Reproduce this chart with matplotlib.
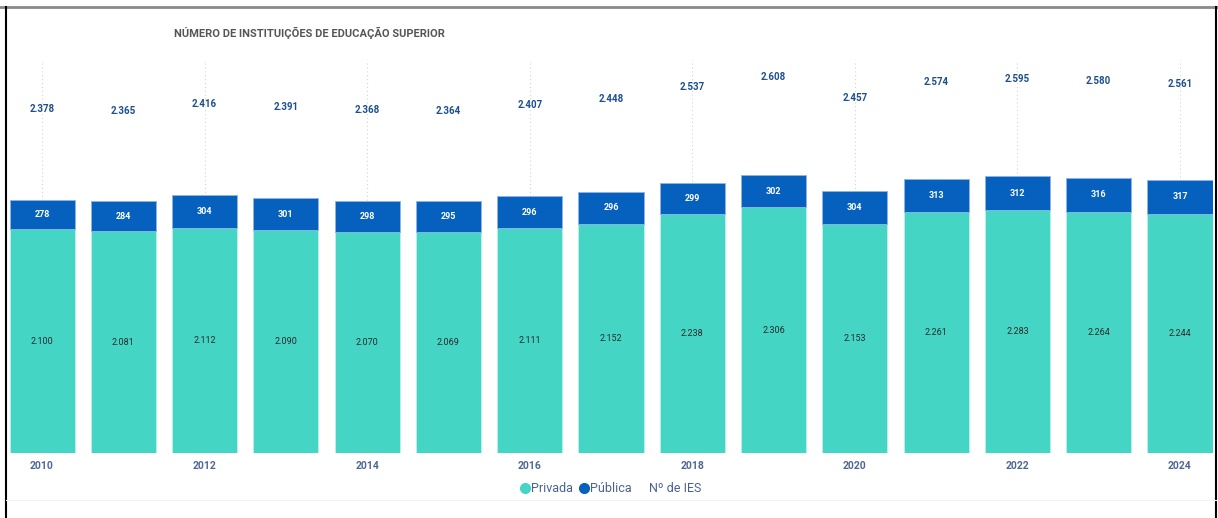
import numpy as np
import matplotlib.pyplot as plt
from matplotlib.lines import Line2D
from matplotlib.ticker import FixedLocator

# Número de instituições de educação superior (IES), por categoria administrativa
anos = list(range(2010, 2025))
privada = [2100, 2081, 2112, 2090, 2070, 2069, 2111, 2152, 2238, 2306, 2153, 2261, 2283, 2264, 2244]
publica = [278, 284, 304, 301, 298, 295, 296, 296, 299, 302, 304, 313, 312, 316, 317]
total = [2378, 2365, 2416, 2391, 2368, 2364, 2407, 2448, 2537, 2608, 2457, 2574, 2595, 2580, 2561]
anos_rotulo = [2010, 2012, 2014, 2016, 2018, 2020, 2022, 2024]

cor_privada = '#45d5c5'
cor_publica = '#0560be'
cor_total = '#1d4f8e'
cor_eixo = '#4a6190'

def fmt(v):
    return '{:,}'.format(v).replace(',', '.')

plt.rcParams['font.family'] = ['Roboto', 'DejaVu Sans']

fig = plt.figure(figsize=(12.18, 5.18), dpi=100)
W, H = 1218, 518
ax = fig.add_axes([9.5 / W, 1 - 453 / H, (1212.5 - 9.5) / W, (453 - 60) / H])

x = np.arange(len(anos))
b1 = ax.bar(x, privada, width=0.8, color=cor_privada, edgecolor='#bff0ea', linewidth=0.6, zorder=2)
b2 = ax.bar(x, publica, width=0.8, bottom=privada, color=cor_publica, edgecolor='#8fb4e6', linewidth=0.6, zorder=2)

for xi, p, q in zip(x, privada, publica):
    ax.text(xi, p / 2, fmt(p), ha='center', va='center', fontsize=6.5, color='#2b2b2b', zorder=3)
    ax.text(xi, p + q / 2, fmt(q), ha='center', va='center', fontsize=6.5, color='white',
            fontweight='bold', zorder=3)

ax.set_xlim(-0.4, len(anos) - 0.6)
ax.set_ylim(0, 3687)

# linhas pontilhadas nos anos rotulados, atrás das barras
for a in anos_rotulo:
    i = anos.index(a)
    ax.plot([i, i], [0, 3687], linestyle=(0, (1, 2.5)), color='#d4d4d4', linewidth=0.8, zorder=1)

ax.xaxis.set_major_locator(FixedLocator([anos.index(a) for a in anos_rotulo]))
ax.set_xticklabels([str(a) for a in anos_rotulo], fontweight='bold')
ax.tick_params(axis='x', length=0, pad=6, labelsize=7.5, labelcolor='#4f6796')
ax.set_yticks([])
for s in ax.spines.values():
    s.set_visible(False)

# total de IES no eixo secundário (série sem linha, apenas rótulos)
ax2 = ax.twinx()
ax2.set_ylim(-91, 2730)
ax2.plot(x, total, linestyle='none')
for xi, t in zip(x, total):
    ax2.text(xi, t, fmt(t), ha='center', va='center', fontsize=7, color=cor_total, fontweight='bold')
ax2.set_yticks([])
for s in ax2.spines.values():
    s.set_visible(False)

fig.text(174 / W, 1 - 33 / H, 'NÚMERO DE INSTITUIÇÕES DE EDUCAÇÃO SUPERIOR', ha='left', va='center',
         fontsize=8, fontweight='bold', color='#555555')

handles = [
    Line2D([], [], marker='o', linestyle='none', markersize=7, color=cor_privada),
    Line2D([], [], marker='o', linestyle='none', markersize=7, color=cor_publica),
    Line2D([], [], linestyle='none'),
]
fig.legend(handles, ['Privada', 'Pública', 'Nº de IES'], loc='center', bbox_to_anchor=(610 / W, 1 - 489 / H),
           ncol=3, frameon=False, fontsize=9, labelcolor=cor_eixo, handletextpad=0.0,
           columnspacing=0.4, handlelength=1.0)

# moldura
fig.add_artist(Line2D([0, 1], [1 - 7 / H, 1 - 7 / H], color='#8a8a8a', linewidth=2.0))
fig.add_artist(Line2D([6 / W, 6 / W], [0, 1 - 7 / H], color='black', linewidth=1.5))
fig.add_artist(Line2D([1216 / W, 1216 / W], [0, 1 - 7 / H], color='black', linewidth=1.5))
fig.add_artist(Line2D([6 / W, 1216 / W], [1 - 500 / H, 1 - 500 / H], color='#f2f2f2', linewidth=0.8))

fig.savefig('out.png', dpi=100)
